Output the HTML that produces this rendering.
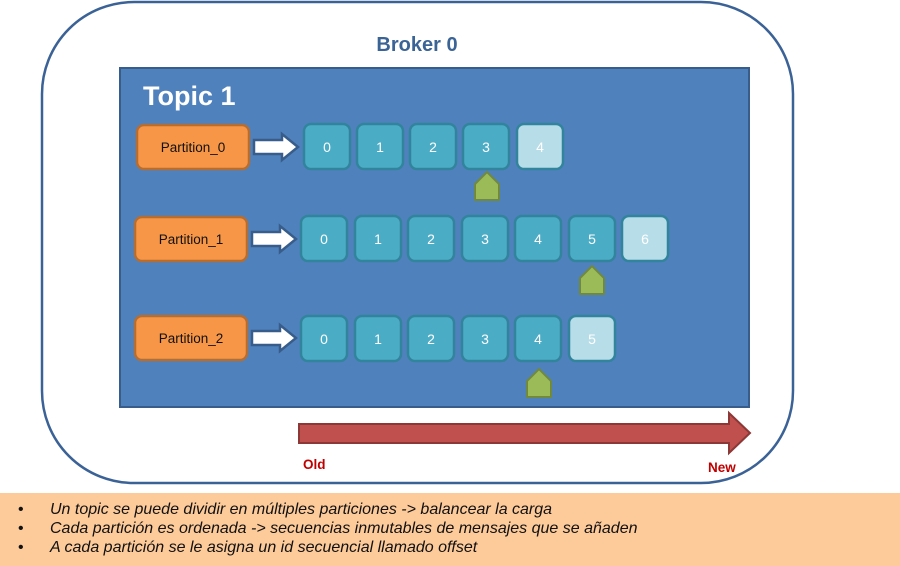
<!DOCTYPE html>
<html><head><meta charset="utf-8"><style>
body{margin:0;background:#fff;width:900px;height:566px;overflow:hidden}
svg{display:block}
text{font-family:"Liberation Sans",sans-serif}
</style></head><body>
<svg width="900" height="566" viewBox="0 0 900 566">
<rect x="42" y="2" width="751" height="481" rx="92" fill="#fff" stroke="#3b6296" stroke-width="2.5"/>
<text x="417" y="51" text-anchor="middle" font-size="20" font-weight="bold" fill="#3b6496">Broker 0</text>
<rect x="120" y="68" width="629" height="339" fill="#4f81bd" stroke="#385d8a" stroke-width="2"/>
<text x="143" y="105" font-size="27" font-weight="bold" fill="#fff">Topic 1</text>
<defs>
<g id="arr"><path d="M0,-7 H28 V-13 L44,0 L28,13 V7 H0 Z" fill="#fff" stroke="#385d8a" stroke-width="2.5"/></g>
<g id="mk"><path d="M0,8 L12,-4 L24,8 V24 H0 Z" fill="#9bbb59" stroke="#71893f" stroke-width="2"/></g>
</defs>
<!-- row 0 -->
<rect x="137" y="125" width="112" height="44" rx="7" fill="#f79646" stroke="#b66d31" stroke-width="2.5"/>
<text x="193" y="152" text-anchor="middle" font-size="13.5" fill="#111">Partition_0</text>
<use href="#arr" x="254" y="147"/>
<g font-size="14" fill="#fff" text-anchor="middle">
<rect x="304" y="124" width="46" height="45" rx="7" fill="#4bacc6" stroke="#31849b" stroke-width="2.5"/><text x="327" y="152">0</text>
<rect x="357" y="124" width="46" height="45" rx="7" fill="#4bacc6" stroke="#31849b" stroke-width="2.5"/><text x="380" y="152">1</text>
<rect x="410" y="124" width="46" height="45" rx="7" fill="#4bacc6" stroke="#31849b" stroke-width="2.5"/><text x="433" y="152">2</text>
<rect x="463" y="124" width="46" height="45" rx="7" fill="#4bacc6" stroke="#31849b" stroke-width="2.5"/><text x="486" y="152">3</text>
<rect x="517" y="124" width="46" height="45" rx="7" fill="#b7dde8" stroke="#31849b" stroke-width="2.5"/><text x="540" y="152">4</text>
</g>
<use href="#mk" x="475" y="176"/>
<!-- row 1 -->
<rect x="135" y="217" width="112" height="44" rx="7" fill="#f79646" stroke="#b66d31" stroke-width="2.5"/>
<text x="191" y="244" text-anchor="middle" font-size="13.5" fill="#111">Partition_1</text>
<use href="#arr" x="252" y="239"/>
<g font-size="14" fill="#fff" text-anchor="middle">
<rect x="301" y="216" width="46" height="45" rx="7" fill="#4bacc6" stroke="#31849b" stroke-width="2.5"/><text x="324" y="244">0</text>
<rect x="355" y="216" width="46" height="45" rx="7" fill="#4bacc6" stroke="#31849b" stroke-width="2.5"/><text x="378" y="244">1</text>
<rect x="408" y="216" width="46" height="45" rx="7" fill="#4bacc6" stroke="#31849b" stroke-width="2.5"/><text x="431" y="244">2</text>
<rect x="462" y="216" width="46" height="45" rx="7" fill="#4bacc6" stroke="#31849b" stroke-width="2.5"/><text x="485" y="244">3</text>
<rect x="515" y="216" width="46" height="45" rx="7" fill="#4bacc6" stroke="#31849b" stroke-width="2.5"/><text x="538" y="244">4</text>
<rect x="569" y="216" width="46" height="45" rx="7" fill="#4bacc6" stroke="#31849b" stroke-width="2.5"/><text x="592" y="244">5</text>
<rect x="622" y="216" width="46" height="45" rx="7" fill="#b7dde8" stroke="#31849b" stroke-width="2.5"/><text x="645" y="244">6</text>
</g>
<use href="#mk" x="580" y="270"/>
<!-- row 2 -->
<rect x="135" y="316" width="112" height="44" rx="7" fill="#f79646" stroke="#b66d31" stroke-width="2.5"/>
<text x="191" y="343" text-anchor="middle" font-size="13.5" fill="#111">Partition_2</text>
<use href="#arr" x="252" y="338"/>
<g font-size="14" fill="#fff" text-anchor="middle">
<rect x="301" y="316" width="46" height="45" rx="7" fill="#4bacc6" stroke="#31849b" stroke-width="2.5"/><text x="324" y="344">0</text>
<rect x="355" y="316" width="46" height="45" rx="7" fill="#4bacc6" stroke="#31849b" stroke-width="2.5"/><text x="378" y="344">1</text>
<rect x="408" y="316" width="46" height="45" rx="7" fill="#4bacc6" stroke="#31849b" stroke-width="2.5"/><text x="431" y="344">2</text>
<rect x="462" y="316" width="46" height="45" rx="7" fill="#4bacc6" stroke="#31849b" stroke-width="2.5"/><text x="485" y="344">3</text>
<rect x="515" y="316" width="46" height="45" rx="7" fill="#4bacc6" stroke="#31849b" stroke-width="2.5"/><text x="538" y="344">4</text>
<rect x="569" y="316" width="46" height="45" rx="7" fill="#b7dde8" stroke="#31849b" stroke-width="2.5"/><text x="592" y="344">5</text>
</g>
<use href="#mk" x="527" y="373"/>
<!-- red arrow -->
<path d="M299,424 H729 V413 L750,433 L729,453 V443 H299 Z" fill="#c0504d" stroke="#8c3836" stroke-width="2"/>
<text x="303" y="469" font-size="13.5" font-weight="bold" fill="#c00000">Old</text>
<text x="708" y="472" font-size="13.5" font-weight="bold" fill="#c00000">New</text>
<!-- bottom band -->
<rect x="0" y="493" width="900" height="73" fill="#fdca9a"/>
<g font-size="16" fill="#111">
<text x="18" y="514">•</text><text x="50" y="514" font-style="italic">Un topic se puede dividir en múltiples particiones -&gt; balancear la carga</text>
<text x="18" y="533">•</text><text x="50" y="533" font-style="italic">Cada partición es ordenada -&gt; secuencias inmutables de mensajes que se añaden</text>
<text x="18" y="552">•</text><text x="50" y="552" font-style="italic">A cada partición se le asigna un id secuencial llamado offset</text>
</g>
</svg>
</body></html>
